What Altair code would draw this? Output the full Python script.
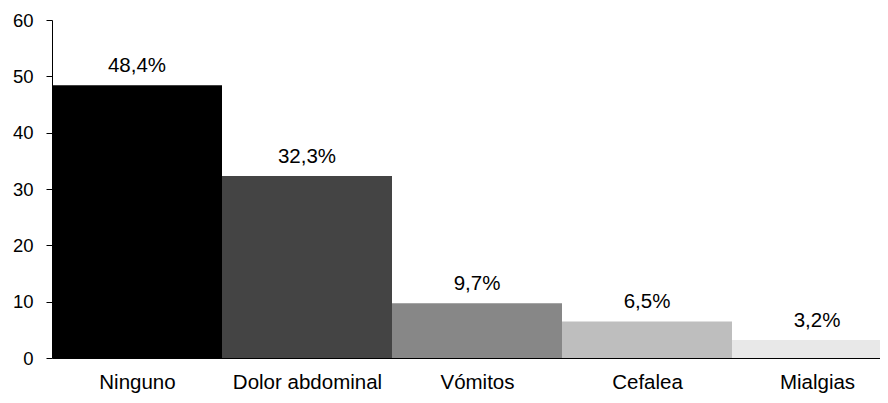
import json
import altair as alt
import pandas as pd

categories = ["Ninguno", "Dolor abdominal", "Vómitos", "Cefalea", "Mialgias"]
values = [48.4, 32.3, 9.7, 6.5, 3.2]
colors = ["#000000", "#444444", "#878787", "#bebebe", "#e8e8e8"]

df = pd.DataFrame({
    "cat": categories,
    "val": values,
    "idx": list(range(len(categories))),
})
df["idx2"] = df["idx"] + 1
df["mid"] = df["idx"] + 0.5
df["lab"] = [f"{v:.1f}".replace(".", ",") + "%" for v in values]

W = 828
H = 338
BAND_PX = 170
xmax = W / BAND_PX

names_js = json.dumps(categories)
FONT = "Liberation Sans"
FS_X = 20.5
FS_Y = 18.5

xscale = alt.Scale(domain=[0, xmax], nice=False, zero=False)
yscale = alt.Scale(domain=[0, 60], nice=False)

bars = alt.Chart(df).mark_bar(clip=True, strokeWidth=0).encode(
    x=alt.X("idx:Q", scale=xscale,
            axis=alt.Axis(values=[i + 0.5 for i in range(len(categories))],
                          labelExpr=f"{names_js}[round(datum.value - 0.5)]",
                          title=None, ticks=False, grid=False,
                          domainColor="#000000", domainWidth=1,
                          labelFont=FONT, labelFontSize=FS_X, labelColor="#000000",
                          labelPadding=14, labelOverlap=False, labelFlush=False,
                          labelBaseline="top")),
    x2="idx2:Q",
    y=alt.Y("val:Q", scale=yscale,
            axis=alt.Axis(values=[0, 10, 20, 30, 40, 50, 60], title=None,
                          grid=False, tickSize=6, tickColor="#000000",
                          domainColor="#000000", domainWidth=1,
                          labelFont=FONT, labelFontSize=FS_Y, labelColor="#000000",
                          labelPadding=13, labelFlush=False)),
    y2=alt.datum(0),
    color=alt.Color("cat:N", scale=alt.Scale(domain=categories, range=colors), legend=None),
)

labels = alt.Chart(df).mark_text(
    font=FONT, fontSize=FS_X, color="#000000", baseline="alphabetic", dy=-13, clip=True
).encode(
    x=alt.X("mid:Q", scale=xscale),
    y=alt.Y("val:Q", scale=yscale),
    text="lab:N",
)

chart = (bars + labels).properties(
    width=W, height=H,
    autosize=alt.AutoSizeParams(type="none"),
    padding={"left": 44, "top": 12, "right": 0, "bottom": 37},
    background="#ffffff",
).configure_view(strokeWidth=0).configure_axis(grid=False)

chart.save("out.html", embed_options={"renderer": "svg", "actions": False})
